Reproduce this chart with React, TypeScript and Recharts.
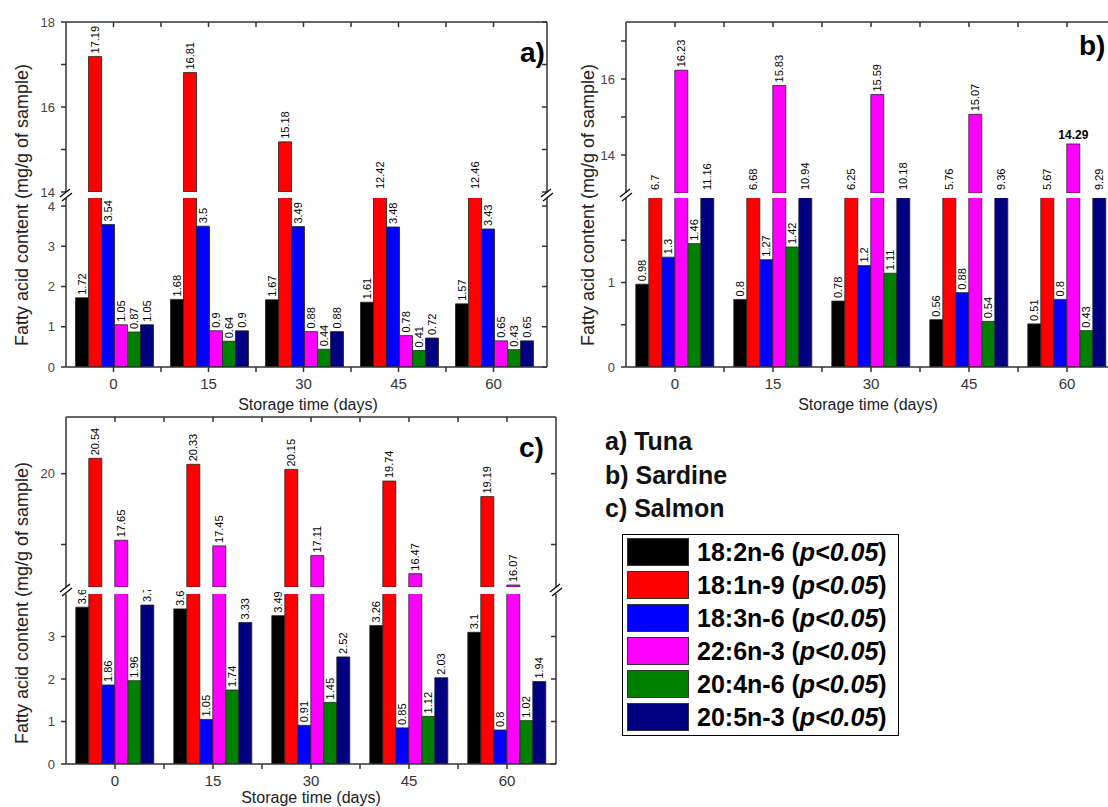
import React from "react";
import { BarChart, Bar, XAxis, YAxis, LabelList } from "recharts";

const days = [0, 15, 30, 45, 60];
const seriesNames = ["18:2n-6", "18:1n-9", "18:3n-6", "22:6n-3", "20:4n-6", "20:5n-3"];
const seriesColors = ["#000000", "#ff0000", "#0000ff", "#ff00ff", "#008000", "#000080"];
const xTicks = [0, 7.5, 15, 22.5, 30, 37.5, 45, 52.5, 60];

// a) Tuna
const tunaLA = [1.72, 1.68, 1.67, 1.61, 1.57];
const tunaOA = [17.19, 16.81, 15.18, 12.42, 12.46];
const tunaGLA = [3.54, 3.5, 3.49, 3.48, 3.43];
const tunaDHA = [1.05, 0.9, 0.88, 0.78, 0.65];
const tunaAA = [0.87, 0.64, 0.44, 0.41, 0.43];
const tunaEPA = [1.05, 0.9, 0.88, 0.72, 0.65];

// b) Sardine
const sardLA = [0.98, 0.8, 0.78, 0.56, 0.51];
const sardOA = [6.7, 6.68, 6.25, 5.76, 5.67];
const sardGLA = [1.3, 1.27, 1.2, 0.88, 0.8];
const sardDHA = [16.23, 15.83, 15.59, 15.07, 14.29];
const sardAA = [1.46, 1.42, 1.11, 0.54, 0.43];
const sardEPA = [11.16, 10.94, 10.18, 9.36, 9.29];

// c) Salmon
const salmLA = [3.69, 3.65, 3.49, 3.26, 3.1];
const salmOA = [20.54, 20.33, 20.15, 19.74, 19.19];
const salmGLA = [1.86, 1.05, 0.91, 0.85, 0.8];
const salmDHA = [17.65, 17.45, 17.11, 16.47, 16.07];
const salmAA = [1.96, 1.74, 1.45, 1.12, 1.02];
const salmEPA = [3.74, 3.33, 2.52, 2.03, 1.94];

const FONT = "'Liberation Sans', Arial, sans-serif";
const AXIS = "#333";
const YW = 50;

const panels = [
  {
    key: "a", series: [tunaLA, tunaOA, tunaGLA, tunaDHA, tunaAA, tunaEPA],
    left: 66, right: 547, padRight: 6,
    upTop: 22, upBottom: 192, lowTop: 198, lowBottom: 367, lowExtra: 40,
    upDomain: [14, 18], lowDomain: [0, 4.2],
    upTicks: [14, 15, 16, 17, 18], lowTicks: [0, 1, 2, 3, 4], upStep: 2, lowStep: 1,
    flat: [] as string[],
  },
  {
    key: "b", series: [sardLA, sardOA, sardGLA, sardDHA, sardAA, sardEPA],
    left: 626, right: 1116, padRight: 0,
    upTop: 22, upBottom: 193, lowTop: 198, lowBottom: 367, lowExtra: 40,
    upDomain: [13, 17.5], lowDomain: [0, 2],
    upTicks: [14, 15, 16, 17], lowTicks: [0, 0.5, 1, 1.5], upStep: 2, lowStep: 1,
    flat: ["3-4"],
  },
  {
    key: "c", series: [salmLA, salmOA, salmGLA, salmDHA, salmAA, salmEPA],
    left: 66, right: 556, padRight: 0,
    upTop: 417, upBottom: 587, lowTop: 594, lowBottom: 764, lowExtra: 4,
    upDomain: [16, 22], lowDomain: [0, 4],
    upTicks: [17.5, 20], lowTicks: [0, 1, 2, 3], upStep: 5, lowStep: 1,
    flat: [] as string[],
  },
];

const stepFmt = (step: number) => (v: number) =>
  Math.abs(v / step - Math.round(v / step)) < 1e-6 ? String(v) : "";
const blank = () => "";

// label drawn rotated above a bar; values hidden by the break get pushed above it
function barLabel(p: any, si: number, flat: string[], opts?: { lowMax: number; upMin: number; gap: number; top: number }) {
  const vb = p.viewBox || {};
  const x = p.x ?? vb.x;
  let y = p.y ?? vb.y;
  const w = p.width ?? vb.width;
  const value = p.value;
  if (value === null || value === undefined || x === undefined) return null;
  if (opts) {
    const v = Number(value);
    if (v > opts.upMin) return null;
    if (v > opts.lowMax) y = Math.max(y, opts.top) - opts.gap;
  }
  const cx = x + w / 2;
  if (flat.includes(`${si}-${p.index}`)) {
    return (
      <text x={cx} y={y - 5} textAnchor="middle" fontSize={12} fontWeight="bold" fontFamily={FONT} fill="#000">
        {value}
      </text>
    );
  }
  const ty = y - 3;
  return (
    <text x={cx} y={ty} transform={`rotate(-90 ${cx} ${ty})`} textAnchor="start" dominantBaseline="central"
      fontSize={11} fontFamily={FONT} fill="#000">
      {value}
    </text>
  );
}

function Panel({ cfg }: { cfg: (typeof panels)[number] }) {
  const lowMax = cfg.lowDomain[1];
  const upMin = cfg.upDomain[0];
  const upperData = days.map((d, ci) => {
    const row: any = { day: d };
    cfg.series.forEach((s, si) => {
      row[`u${si}`] = s[ci] > upMin ? s[ci] : null;
    });
    return row;
  });
  const lowerData = days.map((d, ci) => {
    const row: any = { day: d };
    cfg.series.forEach((s, si) => { row[`v${si}`] = s[ci]; });
    return row;
  });
  const plotW = cfg.right - cfg.left;
  const upH = cfg.upBottom - cfg.upTop;
  const lowH = cfg.lowBottom - cfg.lowTop;
  const pad = { left: 0, right: cfg.padRight };
  const axisProps = { stroke: AXIS, strokeWidth: 1.5 };
  const labelOpts = { lowMax, upMin, gap: cfg.lowTop - cfg.upBottom, top: cfg.lowExtra };

  return (
    <>
      <div style={{ position: "absolute", left: cfg.left - YW, top: cfg.upTop - 10 }}>
        <BarChart width={plotW + YW + 10} height={upH + 18} data={upperData}
          margin={{ top: 10, right: 10, bottom: 8, left: 0 }} barCategoryGap="10%" barGap={0}>
          <XAxis dataKey="day" type="category" hide height={0} padding={pad} />
          <XAxis xAxisId="top" dataKey="day" type="number" orientation="top" mirror domain={[-7.5, 67.5]}
            allowDataOverflow ticks={xTicks} interval={0} tickFormatter={blank} tickSize={5} padding={pad}
            axisLine={axisProps} tickLine={axisProps} />
          <YAxis width={YW} domain={cfg.upDomain} allowDataOverflow ticks={cfg.upTicks} interval={0}
            tickFormatter={stepFmt(cfg.upStep)} tickSize={5} tickMargin={6}
            tick={{ fontSize: 13, fill: "#444", fontFamily: FONT }} axisLine={axisProps} tickLine={axisProps} />
          <YAxis yAxisId="r" orientation="right" mirror domain={cfg.upDomain} allowDataOverflow ticks={cfg.upTicks}
            interval={0} tickFormatter={blank} tickSize={5} axisLine={axisProps} tickLine={axisProps} />
          {seriesNames.map((n, si) => (
            <Bar key={n} dataKey={`u${si}`} fill={seriesColors[si]} stroke="#222" strokeWidth={0.8}
              isAnimationActive={false}>
              <LabelList dataKey={`u${si}`} content={(p: any) => barLabel(p, si, cfg.flat)} />
            </Bar>
          ))}
        </BarChart>
      </div>
      <div style={{ position: "absolute", left: cfg.left - YW, top: cfg.lowTop - cfg.lowExtra }}>
        <BarChart width={plotW + YW + 10} height={lowH + 30 + cfg.lowExtra} data={lowerData}
          margin={{ top: cfg.lowExtra, right: 10, bottom: 0, left: 0 }} barCategoryGap="10%" barGap={0}>
          <XAxis dataKey="day" type="category" hide height={0} padding={pad} />
          <XAxis xAxisId="bot" dataKey="day" type="number" height={30} domain={[-7.5, 67.5]} allowDataOverflow
            ticks={xTicks} interval={0} tickFormatter={stepFmt(15)} tickSize={5} tickMargin={6} padding={pad}
            tick={{ fontSize: 15, fill: "#333", fontFamily: FONT }} axisLine={axisProps} tickLine={axisProps} />
          <YAxis width={YW} domain={cfg.lowDomain} allowDataOverflow ticks={cfg.lowTicks} interval={0}
            tickFormatter={stepFmt(cfg.lowStep)} tickSize={5} tickMargin={6}
            tick={{ fontSize: 13, fill: "#444", fontFamily: FONT }} axisLine={axisProps} tickLine={axisProps} />
          <YAxis yAxisId="r" orientation="right" mirror domain={cfg.lowDomain} allowDataOverflow ticks={cfg.lowTicks}
            interval={0} tickFormatter={blank} tickSize={5} axisLine={axisProps} tickLine={axisProps} />
          {seriesNames.map((n, si) => (
            <Bar key={n} dataKey={`v${si}`} fill={seriesColors[si]} stroke="#222" strokeWidth={0.8}
              isAnimationActive={false}>
              <LabelList dataKey={`v${si}`} content={(p: any) => barLabel(p, si, [], labelOpts)} />
            </Bar>
          ))}
        </BarChart>
      </div>
    </>
  );
}

function BreakMark({ x, y }: { x: number; y: number }) {
  return (
    <g stroke="#000" strokeWidth={1.3}>
      <line x1={x - 6} y1={y + 2} x2={x + 4} y2={y - 6} />
      <line x1={x - 4} y1={y + 6} x2={x + 6} y2={y - 2} />
    </g>
  );
}

const yTitle = "Fatty acid content (mg/g of sample)";
const xTitle = "Storage time (days)";

export default function App() {
  return (
    <div style={{ position: "absolute", left: 0, top: 0, width: 1108, height: 807, overflow: "hidden", background: "#fff", fontFamily: FONT }}>
      {panels.map((p) => <Panel key={p.key} cfg={p} />)}
      <svg width={1108} height={807} style={{ position: "absolute", left: 0, top: 0, pointerEvents: "none" }}>
        <g fontFamily={FONT} fill="#222" fontSize={18}>
          <text x={28} y={205} transform="rotate(-90 28 205)" textAnchor="middle">{yTitle}</text>
          <text x={594} y={205} transform="rotate(-90 594 205)" textAnchor="middle">{yTitle}</text>
          <text x={28} y={603} transform="rotate(-90 28 603)" textAnchor="middle">{yTitle}</text>
        </g>
        <g fontFamily={FONT} fill="#222" fontSize={16} textAnchor="middle">
          <text x={308} y={410}>{xTitle}</text>
          <text x={868} y={410}>{xTitle}</text>
          <text x={311} y={803}>{xTitle}</text>
        </g>
        <g fontFamily={FONT} fill="#000" fontSize={28} fontWeight="bold">
          <text x={520} y={62}>a)</text>
          <text x={1079} y={55}>b)</text>
          <text x={519} y={457}>c)</text>
        </g>
        <BreakMark x={66} y={195} />
        <BreakMark x={547} y={195} />
        <BreakMark x={626} y={195} />
        <BreakMark x={66} y={590} />
        <BreakMark x={556} y={590} />
      </svg>
      <div style={{ position: "absolute", left: 605, top: 425, fontWeight: "bold", fontSize: 25, lineHeight: "33.5px", color: "#111" }}>
        <div>a) Tuna</div>
        <div>b) Sardine</div>
        <div>c) Salmon</div>
      </div>
      <div style={{ position: "absolute", left: 622, top: 534, width: 275, height: 200, border: "1.5px solid #000", background: "#fff" }}>
        {seriesNames.map((n, i) => (
          <div key={n} style={{ position: "absolute", left: 4, top: 2 + i * 33, height: 30, display: "flex", alignItems: "center" }}>
            <div style={{ width: 62, height: 28, background: seriesColors[i], border: "1px solid #333", boxSizing: "border-box" }} />
            <div style={{ marginLeft: 8, fontSize: 25, fontWeight: "bold", color: "#000", whiteSpace: "nowrap" }}>
              {n} (<i>p&lt;0.05</i>)
            </div>
          </div>
        ))}
      </div>
    </div>
  );
}
